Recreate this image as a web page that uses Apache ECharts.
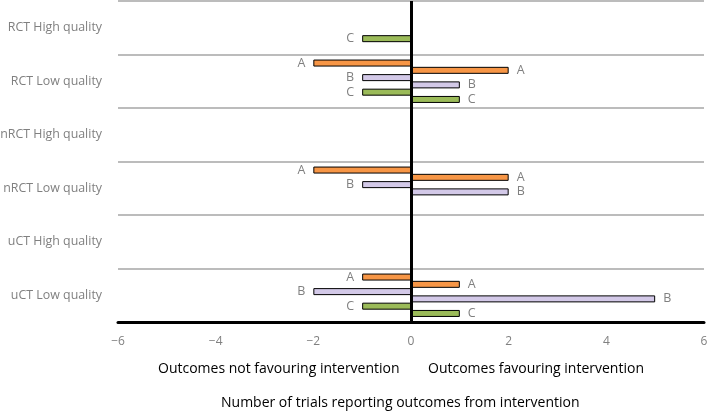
<!DOCTYPE html>
<html>
<head>
<meta charset="utf-8">
<script src="https://cdn.jsdelivr.net/npm/echarts@6/dist/echarts.min.js"></script>
<style>
html,body{margin:0;padding:0;background:#fff;}
#chart{width:709px;height:414px;}
</style>
</head>
<body>
<div id="chart"></div>
<script>
var categories = ['RCT High quality', 'RCT Low quality', 'nRCT High quality', 'nRCT Low quality', 'uCT High quality', 'uCT Low quality'];
var aNeg = [null, -2, null, -2, null, -1];
var aPos = [null, 2, null, 2, null, 1];
var bNeg = [null, -1, null, -1, null, -2];
var bPos = [null, 1, null, 2, null, 5];
var cNeg = [-1, -1, null, null, null, -1];
var cPos = [null, 1, null, null, null, 1];
var xTicks = [-6, -4, -2, 0, 2, 4, 6];

var FONT = 'Open Sans';
var GRAY = '#808080';
var colors = { A: '#F79646', B: '#D3C9E8', C: '#9BBB59' };

function mk(name, letter, data, neg) {
  return {
    name: name,
    type: 'bar',
    data: data,
    barWidth: 7,
    barGap: '4%',
    itemStyle: { color: colors[letter], borderColor: '#000', borderWidth: 1 },
    label: {
      show: true,
      position: neg ? 'left' : 'right',
      distance: 8,
      color: GRAY,
      fontFamily: FONT,
      fontSize: 12.5,
      formatter: function (p) { return (p.value === null || p.value === undefined) ? '' : letter; }
    },
    silent: true,
    animation: false
  };
}

var series = [
  mk('A-', 'A', aNeg, true),
  mk('A+', 'A', aPos, false),
  mk('B-', 'B', bNeg, true),
  mk('B+', 'B', bPos, false),
  mk('C-', 'C', cNeg, true),
  mk('C+', 'C', cPos, false)
];
series[0].markLine = {
  silent: true,
  symbol: ['none', 'none'],
  label: { show: false },
  lineStyle: { color: '#000', width: 3, type: 'solid' },
  data: [{ xAxis: 0 }],
  animation: false
};

var chart = echarts.init(document.getElementById('chart'), null, { renderer: 'canvas' });
chart.setOption({
  animation: false,
  grid: { left: 118, right: 5, top: 1, bottom: 92, containLabel: false, outerBoundsMode: 'none' },
  xAxis: {
    type: 'value',
    min: xTicks[0],
    max: xTicks[xTicks.length - 1],
    interval: 2,
    axisLine: { show: true, lineStyle: { color: '#000', width: 3 } },
    axisTick: { show: false },
    splitLine: { show: false },
    axisLabel: {
      color: GRAY, fontFamily: FONT, fontSize: 12, margin: 14,
      formatter: function (v) { return String(v).replace('-', '\u2212'); }
    }
  },
  yAxis: {
    type: 'category',
    data: categories,
    inverse: true,
    axisLine: { show: false },
    axisTick: { show: false },
    splitLine: { show: true, lineStyle: { color: '#a6a6a6', width: 1.5 } },
    axisLabel: { color: GRAY, fontFamily: FONT, fontSize: 12.4, margin: 16 }
  },
  series: series,
  graphic: [
    { type: 'text', left: 158, top: 362, style: { text: 'Outcomes not favouring intervention', fill: '#000', font: '14px "Open Sans"' } },
    { type: 'text', left: 428, top: 362, style: { text: 'Outcomes favouring intervention', fill: '#000', font: '14px "Open Sans"' } },
    { type: 'text', left: 221, top: 396, style: { text: 'Number of trials reporting outcomes from intervention', fill: '#000', font: '14px "Open Sans"' } }
  ]
});
</script>
</body>
</html>
